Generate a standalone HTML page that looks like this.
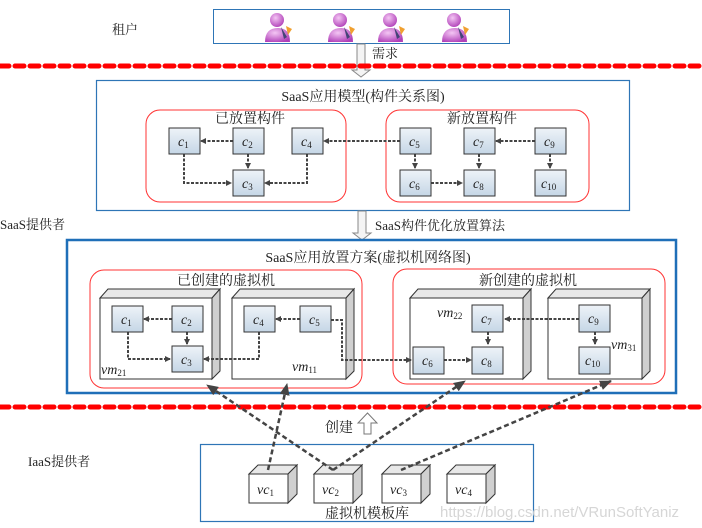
<!DOCTYPE html>
<html><head><meta charset="utf-8"><style>
body{margin:0;background:#fff}
svg{display:block}
text{font-family:"Liberation Serif","Noto Serif CJK SC","Noto Sans CJK SC",serif;fill:#222}
.n{fill:url(#g);stroke:#333;stroke-width:1}
.c{font-style:italic;font-size:14px}
.s{font-size:9px;font-style:normal}
.d{stroke:#444;stroke-width:2;stroke-dasharray:3,1.5;fill:none}
.dl{stroke:#444;stroke-width:2.5;stroke-dasharray:5,3;fill:none}
</style></head><body>
<svg width="702" height="528" viewBox="0 0 702 528" xmlns="http://www.w3.org/2000/svg">
<defs>
<linearGradient id="g" x1="0" y1="0" x2="0" y2="1"><stop offset="0" stop-color="#eef3f8"/><stop offset="1" stop-color="#c5d6e6"/></linearGradient>
<marker id="a" markerWidth="6" markerHeight="6" refX="5" refY="3" orient="auto" markerUnits="userSpaceOnUse"><path d="M0,0 L6,3 L0,6z" fill="#444"/></marker>
<marker id="b" markerWidth="12" markerHeight="10" refX="11" refY="5" orient="auto" markerUnits="userSpaceOnUse"><path d="M0,0 L12,5 L0,10z" fill="#444"/></marker>
<radialGradient id="p" cx="0.4" cy="0.35" r="0.7"><stop offset="0" stop-color="#f4c6f4"/><stop offset="1" stop-color="#b040b8"/></radialGradient>
</defs>

<!-- tenants -->
<text x="112" y="34" font-size="13">租户</text>
<rect x="213.5" y="9.5" width="296" height="34" fill="#fff" stroke="#2e75b6" stroke-width="1"/>
<g id="per">
<path d="M265,42 Q265,28 278,28 Q290,28 290,42z" fill="url(#p)"/>
<circle cx="277" cy="20" r="7" fill="url(#p)"/>
<path d="M281,27 L287,37 L284,39z" fill="#447"/>
<path d="M286,26 L292,29 L288,35z" fill="#f0a030"/>
</g>
<use href="#per" x="63"/><use href="#per" x="113"/><use href="#per" x="177"/>

<!-- arrow need -->
<path d="M357,44 L365,44 L365,70 L370,70 L361,77 L352,70 L357,70z" fill="#f4f4f4" stroke="#888"/>
<text x="372" y="58" font-size="13" font-family="Liberation Sans,Noto Sans CJK SC,sans-serif">需求</text>
<line x1="0" y1="66" x2="702" y2="66" stroke="#f00" stroke-width="5" stroke-dasharray="9,6" stroke-linecap="round"/>

<!-- SaaS model -->
<rect x="96.5" y="80.5" width="533" height="130" fill="none" stroke="#2e75b6" stroke-width="1.2"/>
<text x="363" y="101" font-size="14" text-anchor="middle">SaaS应用模型(构件关系图)</text>
<rect x="146" y="110" width="200" height="92" rx="14" fill="none" stroke="#f33" stroke-width="1"/>
<rect x="386" y="110" width="203" height="92" rx="14" fill="none" stroke="#f33" stroke-width="1"/>
<text x="250" y="123" font-size="14" text-anchor="middle">已放置构件</text>
<text x="482" y="123" font-size="14" text-anchor="middle">新放置构件</text>
<path class="d" d="M233,141 L201,141" marker-end="url(#a)"/>
<path class="d" d="M400,141 L324,141" marker-end="url(#a)"/>
<path class="d" d="M535,141 L496,141" marker-end="url(#a)"/>
<path class="d" d="M248,154 L248,168" marker-end="url(#a)"/>
<path class="d" d="M415,154 L415,168" marker-end="url(#a)"/>
<path class="d" d="M479,154 L479,168" marker-end="url(#a)"/>
<path class="d" d="M550,154 L550,168" marker-end="url(#a)"/>
<path class="d" d="M184,154 L184,183 L231,183" marker-end="url(#a)"/>
<path class="d" d="M307,154 L307,183 L265,183" marker-end="url(#a)"/>
<path class="d" d="M431,183 L462,183" marker-end="url(#a)"/>
<g>
<rect class="n" x="169" y="128" width="31" height="26"/><text class="c" x="178" y="146">c<tspan class="s" dy="2">1</tspan></text>
<rect class="n" x="233" y="128" width="31" height="26"/><text class="c" x="242" y="146">c<tspan class="s" dy="2">2</tspan></text>
<rect class="n" x="292" y="128" width="31" height="26"/><text class="c" x="301" y="146">c<tspan class="s" dy="2">4</tspan></text>
<rect class="n" x="233" y="170" width="31" height="26"/><text class="c" x="242" y="188">c<tspan class="s" dy="2">3</tspan></text>
<rect class="n" x="400" y="128" width="31" height="26"/><text class="c" x="409" y="146">c<tspan class="s" dy="2">5</tspan></text>
<rect class="n" x="464" y="128" width="31" height="26"/><text class="c" x="473" y="146">c<tspan class="s" dy="2">7</tspan></text>
<rect class="n" x="535" y="128" width="31" height="26"/><text class="c" x="544" y="146">c<tspan class="s" dy="2">9</tspan></text>
<rect class="n" x="400" y="170" width="31" height="26"/><text class="c" x="409" y="188">c<tspan class="s" dy="2">6</tspan></text>
<rect class="n" x="464" y="170" width="31" height="26"/><text class="c" x="473" y="188">c<tspan class="s" dy="2">8</tspan></text>
<rect class="n" x="535" y="170" width="31" height="26"/><text class="c" x="541" y="188">c<tspan class="s" dy="2">10</tspan></text>
</g>

<!-- arrow algorithm -->
<text x="0" y="229" font-size="13">SaaS提供者</text>
<path d="M358,211 L366,211 L366,233 L371,233 L362,240 L353,233 L358,233z" fill="#f4f4f4" stroke="#888"/>
<text x="375" y="230" font-size="13">SaaS构件优化放置算法</text>

<!-- placement -->
<rect x="67" y="240" width="609" height="153" fill="none" stroke="#1f6fb8" stroke-width="2.5"/>
<text x="368" y="262" font-size="14" text-anchor="middle">SaaS应用放置方案(虚拟机网络图)</text>
<rect x="90" y="270" width="272" height="118" rx="14" fill="none" stroke="#f33" stroke-width="1"/>
<rect x="393" y="269" width="272" height="115" rx="14" fill="none" stroke="#f33" stroke-width="1"/>
<text x="226" y="285" font-size="14" text-anchor="middle">已创建的虚拟机</text>
<text x="528" y="285" font-size="14" text-anchor="middle">新创建的虚拟机</text>
<g stroke="#333" stroke-width="1">
<path d="M100,298 L108,289 L220,289 L212,298z" fill="#e8e8e8"/><path d="M212,298 L220,289 L220,371 L212,379z" fill="#d0d0d0"/><rect x="100" y="298" width="112" height="81" fill="#fff"/>
<path d="M232,298 L240,289 L354,289 L346,298z" fill="#e8e8e8"/><path d="M346,298 L354,289 L354,371 L346,379z" fill="#d0d0d0"/><rect x="232" y="298" width="114" height="81" fill="#fff"/>
<path d="M410,298 L418,289 L531,289 L523,298z" fill="#e8e8e8"/><path d="M523,298 L531,289 L531,371 L523,379z" fill="#d0d0d0"/><rect x="410" y="298" width="113" height="81" fill="#fff"/>
<path d="M548,298 L556,289 L650,289 L642,298z" fill="#e8e8e8"/><path d="M642,298 L650,289 L650,371 L642,379z" fill="#d0d0d0"/><rect x="548" y="298" width="94" height="81" fill="#fff"/>
</g>
<text class="c" x="101" y="374">vm<tspan class="s" dy="2">21</tspan></text>
<text class="c" x="292" y="371">vm<tspan class="s" dy="2">11</tspan></text>
<text class="c" x="437" y="317">vm<tspan class="s" dy="2">22</tspan></text>
<text class="c" x="611" y="349">vm<tspan class="s" dy="2">31</tspan></text>
<path class="d" d="M172,319 L144,319" marker-end="url(#a)"/>
<path class="d" d="M300,319 L276,319" marker-end="url(#a)"/>
<path class="d" d="M579,319 L505,319" marker-end="url(#a)"/>
<path class="d" d="M187,332 L187,344" marker-end="url(#a)"/>
<path class="d" d="M488,332 L488,344" marker-end="url(#a)"/>
<path class="d" d="M595,332 L595,344" marker-end="url(#a)"/>
<path class="d" d="M128,332 L128,359 L170,359" marker-end="url(#a)"/>
<path class="d" d="M259,332 L259,359 L204,359" marker-end="url(#a)"/>
<path class="d" d="M331,320 L342,320 L342,360 L411,360" marker-end="url(#a)"/>
<path class="d" d="M444,360 L471,360" marker-end="url(#a)"/>
<g>
<rect class="n" x="112" y="306" width="31" height="26"/><text class="c" x="121" y="324">c<tspan class="s" dy="2">1</tspan></text>
<rect class="n" x="172" y="306" width="31" height="26"/><text class="c" x="181" y="324">c<tspan class="s" dy="2">2</tspan></text>
<rect class="n" x="172" y="346" width="31" height="26"/><text class="c" x="181" y="364">c<tspan class="s" dy="2">3</tspan></text>
<rect class="n" x="244" y="306" width="31" height="26"/><text class="c" x="253" y="324">c<tspan class="s" dy="2">4</tspan></text>
<rect class="n" x="300" y="306" width="31" height="26"/><text class="c" x="309" y="324">c<tspan class="s" dy="2">5</tspan></text>
<rect class="n" x="472" y="305" width="31" height="27"/><text class="c" x="481" y="323">c<tspan class="s" dy="2">7</tspan></text>
<rect class="n" x="413" y="347" width="31" height="27"/><text class="c" x="422" y="365">c<tspan class="s" dy="2">6</tspan></text>
<rect class="n" x="472" y="347" width="31" height="27"/><text class="c" x="481" y="365">c<tspan class="s" dy="2">8</tspan></text>
<rect class="n" x="579" y="305" width="31" height="27"/><text class="c" x="588" y="323">c<tspan class="s" dy="2">9</tspan></text>
<rect class="n" x="579" y="347" width="31" height="27"/><text class="c" x="585" y="365">c<tspan class="s" dy="2">10</tspan></text>
</g>

<line x1="0" y1="407" x2="702" y2="407" stroke="#f00" stroke-width="5" stroke-dasharray="9,6" stroke-linecap="round"/>
<text x="325" y="432" font-size="14" font-family="Liberation Sans,Noto Sans CJK SC,sans-serif">创建</text>
<path d="M364,434 L371,434 L371,423 L377,423 L367.5,413 L358,423 L364,423z" fill="#fff" stroke="#777"/>
<text x="28" y="466" font-size="13">IaaS提供者</text>

<!-- template library -->
<rect x="200.5" y="444.5" width="333" height="77" fill="none" stroke="#2e75b6" stroke-width="1.2"/>
<g stroke="#333" stroke-width="1">
<path d="M249,474 L258,465 L297,465 L288,474z" fill="#e8e8e8"/><path d="M288,474 L297,465 L297,494 L288,503z" fill="#d0d0d0"/><rect x="249" y="474" width="39" height="29" fill="#fff"/>
<path d="M314,474 L323,465 L362,465 L353,474z" fill="#e8e8e8"/><path d="M353,474 L362,465 L362,494 L353,503z" fill="#d0d0d0"/><rect x="314" y="474" width="39" height="29" fill="#fff"/>
<path d="M382,474 L391,465 L430,465 L421,474z" fill="#e8e8e8"/><path d="M421,474 L430,465 L430,494 L421,503z" fill="#d0d0d0"/><rect x="382" y="474" width="39" height="29" fill="#fff"/>
<path d="M447,474 L456,465 L495,465 L486,474z" fill="#e8e8e8"/><path d="M486,474 L495,465 L495,494 L486,503z" fill="#d0d0d0"/><rect x="447" y="474" width="39" height="29" fill="#fff"/>
</g>
<text class="c" x="257" y="494">vc<tspan class="s" dy="2">1</tspan></text>
<text class="c" x="322" y="494">vc<tspan class="s" dy="2">2</tspan></text>
<text class="c" x="390" y="494">vc<tspan class="s" dy="2">3</tspan></text>
<text class="c" x="455" y="494">vc<tspan class="s" dy="2">4</tspan></text>
<text x="367" y="518" font-size="14" text-anchor="middle">虚拟机模板库</text>
<text x="440" y="517" style="fill:#d6d6d6;font-family:'Liberation Sans',sans-serif;font-size:15px">https://blog.csdn.net/VRunSoftYaniz</text>

<!-- dashed creation links -->
<path class="dl" d="M268,470 L287,384" marker-end="url(#b)"/>
<path class="dl" d="M333,470 L207,385" marker-end="url(#b)"/>
<path class="dl" d="M333,470 L465,381" marker-end="url(#b)"/>
<path class="dl" d="M401,470 L611,381" marker-end="url(#b)"/>
</svg>
</body></html>
